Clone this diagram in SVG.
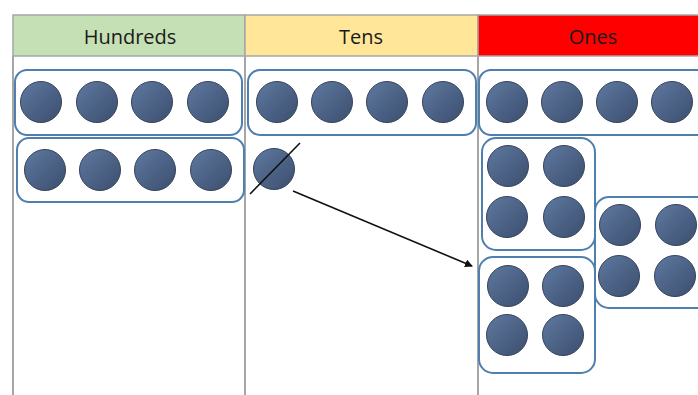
<svg xmlns="http://www.w3.org/2000/svg" width="698" height="395" viewBox="0 0 698 395">
<defs>
<linearGradient id="g" x1="0" y1="0" x2="1" y2="1">
<stop offset="0" stop-color="#5f79a0"/>
<stop offset="1" stop-color="#3b4e6e"/>
</linearGradient>
<marker id="ah" markerWidth="8" markerHeight="8" refX="7" refY="4" orient="auto" markerUnits="userSpaceOnUse">
<path d="M0,0 L8,4 L0,8 Z" fill="#111"/>
</marker>
</defs>
<style>
.hdr{stroke:#a6a6a6;stroke-width:1.5}
.grid{stroke:#a6a6a6;stroke-width:2;fill:none}
.lbl{font-family:"Open Sans","Liberation Sans",sans-serif;font-size:20px;fill:#1a1a1a;text-anchor:middle}
.box{fill:#fff;stroke:#4f7fae;stroke-width:2}
.c{fill:url(#g);stroke:#35435c;stroke-width:1}
.ln{stroke:#111;stroke-width:1.6;fill:none}
</style>
<rect width="698" height="395" fill="#fff"/>
<g id="header">
<rect class="hdr" x="13" y="15" width="232" height="41" fill="#c5e0b4"/>
<rect class="hdr" x="245" y="15" width="233" height="41" fill="#ffe699"/>
<rect class="hdr" x="478" y="15" width="232" height="41" fill="#ff0000"/>
<text class="lbl" x="130" y="44">Hundreds</text>
<text class="lbl" x="361" y="44">Tens</text>
<text class="lbl" x="593" y="44">Ones</text>
</g>
<g id="grid">
<line class="grid" x1="13" y1="56" x2="13" y2="395"/>
<line class="grid" x1="245" y1="56" x2="245" y2="395"/>
<line class="grid" x1="478" y1="56" x2="478" y2="395"/>
</g>
<g id="hundreds-row1">
<rect class="box" x="15" y="70" width="227" height="65" rx="12"/>
<circle class="c" cx="41" cy="102" r="20.5"/>
<circle class="c" cx="97" cy="102" r="20.5"/>
<circle class="c" cx="152" cy="102" r="20.5"/>
<circle class="c" cx="208" cy="102" r="20.5"/>
</g>
<g id="hundreds-row2">
<rect class="box" x="17" y="138" width="227" height="64" rx="12"/>
<circle class="c" cx="45" cy="170" r="20.5"/>
<circle class="c" cx="100" cy="170" r="20.5"/>
<circle class="c" cx="155" cy="170" r="20.5"/>
<circle class="c" cx="211" cy="170" r="20.5"/>
</g>
<g id="tens-row1">
<rect class="box" x="248" y="70" width="228" height="65" rx="12"/>
<circle class="c" cx="277" cy="102" r="20.5"/>
<circle class="c" cx="332" cy="102" r="20.5"/>
<circle class="c" cx="387" cy="102" r="20.5"/>
<circle class="c" cx="443" cy="102" r="20.5"/>
</g>
<g id="tens-single">
<circle class="c" cx="274" cy="169" r="20.5"/>
<line class="ln" x1="250" y1="194" x2="300" y2="143"/>
</g>
<g id="ones-row1">
<rect class="box" x="479" y="70" width="240" height="65" rx="12"/>
<circle class="c" cx="507" cy="102" r="20.5"/>
<circle class="c" cx="562" cy="102" r="20.5"/>
<circle class="c" cx="617" cy="102" r="20.5"/>
<circle class="c" cx="672" cy="102" r="20.5"/>
</g>
<g id="ones-groupA">
<rect class="box" x="482" y="138" width="113" height="112" rx="14"/>
<circle class="c" cx="508" cy="166" r="20.5"/>
<circle class="c" cx="564" cy="166" r="20.5"/>
<circle class="c" cx="507" cy="217" r="20.5"/>
<circle class="c" cx="564" cy="217" r="20.5"/>
</g>
<g id="ones-groupB">
<rect class="box" x="595" y="197" width="120" height="111" rx="14"/>
<circle class="c" cx="620" cy="225" r="20.5"/>
<circle class="c" cx="676" cy="225" r="20.5"/>
<circle class="c" cx="619" cy="276" r="20.5"/>
<circle class="c" cx="675" cy="276" r="20.5"/>
</g>
<g id="ones-groupC">
<rect class="box" x="479" y="257" width="116" height="116" rx="14"/>
<circle class="c" cx="508" cy="286" r="20.5"/>
<circle class="c" cx="563" cy="286" r="20.5"/>
<circle class="c" cx="507" cy="335" r="20.5"/>
<circle class="c" cx="563" cy="335" r="20.5"/>
</g>
<g id="connectors">
<line class="ln" x1="293" y1="191" x2="472" y2="266" marker-end="url(#ah)"/>
</g>
</svg>
